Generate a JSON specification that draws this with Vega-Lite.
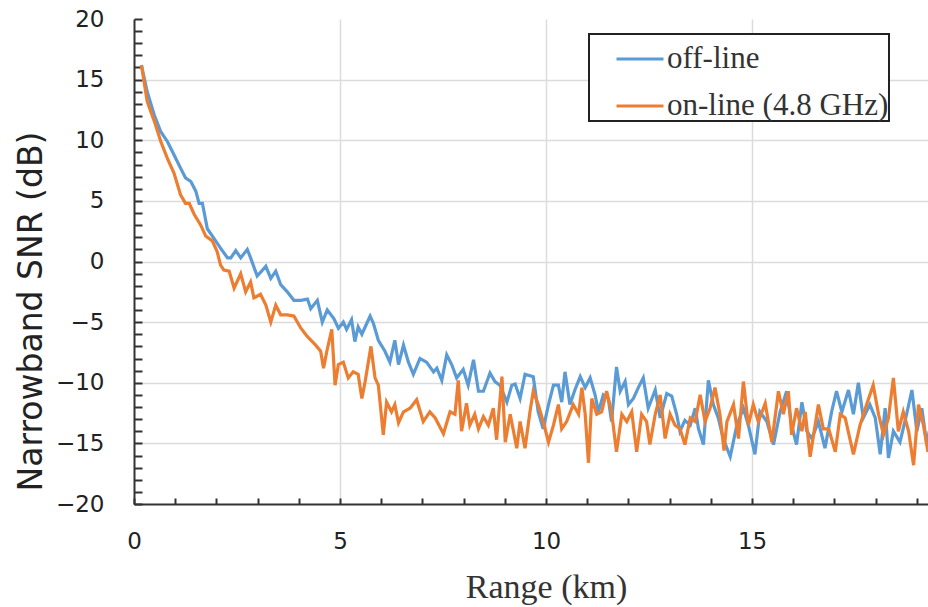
{
  "$schema": "https://vega.github.io/schema/vega-lite/v6.json",
  "width": 794,
  "height": 485,
  "autosize": {"type": "none"},
  "padding": {"left": 134, "top": 19, "right": 0, "bottom": 103},
  "background": "white",
  "config": {
    "view": {"stroke": null},
    "axis": {"labelFont": "DejaVu Sans", "labelFontSize": 23, "labelColor": "#222", "domainColor": "#333", "domainWidth": 2, "tickColor": "#333", "tickWidth": 2, "gridColor": "#dcdcdc", "gridWidth": 1.5},
    "legend": {"strokeWidth": 2}
  },
  "resolve": {"axis": {"y": "independent"}},
  "datasets": {
    "snr": [
      {"r":0.18,"v":16.2,"s":"off-line"},{"r":0.32,"v":14.0,"s":"off-line"},{"r":0.49,"v":12.1,"s":"off-line"},{"r":0.65,"v":10.7,"s":"off-line"},{"r":0.81,"v":9.9,"s":"off-line"},{"r":0.97,"v":8.8,"s":"off-line"},{"r":1.13,"v":7.7,"s":"off-line"},{"r":1.25,"v":6.9,"s":"off-line"},{"r":1.38,"v":6.6,"s":"off-line"},{"r":1.50,"v":5.8,"s":"off-line"},{"r":1.58,"v":4.8,"s":"off-line"},{"r":1.66,"v":4.8,"s":"off-line"},{"r":1.78,"v":2.7,"s":"off-line"},{"r":1.94,"v":1.9,"s":"off-line"},{"r":2.10,"v":1.1,"s":"off-line"},{"r":2.27,"v":0.3,"s":"off-line"},{"r":2.35,"v":0.3,"s":"off-line"},{"r":2.47,"v":0.9,"s":"off-line"},{"r":2.59,"v":0.3,"s":"off-line"},{"r":2.75,"v":1.0,"s":"off-line"},{"r":2.83,"v":0.3,"s":"off-line"},{"r":2.99,"v":-1.2,"s":"off-line"},{"r":3.20,"v":-0.4,"s":"off-line"},{"r":3.32,"v":-1.4,"s":"off-line"},{"r":3.44,"v":-0.8,"s":"off-line"},{"r":3.56,"v":-1.9,"s":"off-line"},{"r":3.72,"v":-2.5,"s":"off-line"},{"r":3.88,"v":-3.2,"s":"off-line"},{"r":4.05,"v":-3.2,"s":"off-line"},{"r":4.21,"v":-3.1,"s":"off-line"},{"r":4.29,"v":-3.9,"s":"off-line"},{"r":4.45,"v":-3.2,"s":"off-line"},{"r":4.57,"v":-5.0,"s":"off-line"},{"r":4.69,"v":-4.0,"s":"off-line"},{"r":4.85,"v":-4.7,"s":"off-line"},{"r":4.96,"v":-5.5,"s":"off-line"},{"r":5.08,"v":-5.0,"s":"off-line"},{"r":5.16,"v":-5.6,"s":"off-line"},{"r":5.28,"v":-4.8,"s":"off-line"},{"r":5.36,"v":-6.6,"s":"off-line"},{"r":5.44,"v":-5.4,"s":"off-line"},{"r":5.53,"v":-6.0,"s":"off-line"},{"r":5.61,"v":-5.4,"s":"off-line"},{"r":5.73,"v":-4.5,"s":"off-line"},{"r":5.81,"v":-5.1,"s":"off-line"},{"r":5.93,"v":-6.5,"s":"off-line"},{"r":6.09,"v":-7.4,"s":"off-line"},{"r":6.21,"v":-8.3,"s":"off-line"},{"r":6.33,"v":-6.5,"s":"off-line"},{"r":6.42,"v":-8.5,"s":"off-line"},{"r":6.54,"v":-6.9,"s":"off-line"},{"r":6.66,"v":-8.3,"s":"off-line"},{"r":6.78,"v":-9.3,"s":"off-line"},{"r":6.94,"v":-8.0,"s":"off-line"},{"r":7.10,"v":-8.3,"s":"off-line"},{"r":7.27,"v":-9.1,"s":"off-line"},{"r":7.35,"v":-8.8,"s":"off-line"},{"r":7.47,"v":-9.8,"s":"off-line"},{"r":7.59,"v":-7.7,"s":"off-line"},{"r":7.71,"v":-8.5,"s":"off-line"},{"r":7.83,"v":-9.6,"s":"off-line"},{"r":7.99,"v":-8.9,"s":"off-line"},{"r":8.11,"v":-10.2,"s":"off-line"},{"r":8.24,"v":-8.1,"s":"off-line"},{"r":8.36,"v":-10.7,"s":"off-line"},{"r":8.48,"v":-10.7,"s":"off-line"},{"r":8.64,"v":-9.2,"s":"off-line"},{"r":8.76,"v":-9.9,"s":"off-line"},{"r":8.88,"v":-10.2,"s":"off-line"},{"r":9.05,"v":-11.6,"s":"off-line"},{"r":9.17,"v":-10.2,"s":"off-line"},{"r":9.25,"v":-10.1,"s":"off-line"},{"r":9.37,"v":-11.3,"s":"off-line"},{"r":9.49,"v":-9.3,"s":"off-line"},{"r":9.69,"v":-9.5,"s":"off-line"},{"r":9.81,"v":-12.4,"s":"off-line"},{"r":9.93,"v":-13.8,"s":"off-line"},{"r":10.06,"v":-11.8,"s":"off-line"},{"r":10.18,"v":-10.2,"s":"off-line"},{"r":10.30,"v":-10.2,"s":"off-line"},{"r":10.38,"v":-11.6,"s":"off-line"},{"r":10.46,"v":-9.1,"s":"off-line"},{"r":10.58,"v":-11.8,"s":"off-line"},{"r":10.70,"v":-10.6,"s":"off-line"},{"r":10.83,"v":-9.5,"s":"off-line"},{"r":10.95,"v":-10.4,"s":"off-line"},{"r":11.07,"v":-9.6,"s":"off-line"},{"r":11.19,"v":-11.0,"s":"off-line"},{"r":11.27,"v":-12.4,"s":"off-line"},{"r":11.39,"v":-11.0,"s":"off-line"},{"r":11.51,"v":-11.3,"s":"off-line"},{"r":11.59,"v":-13.2,"s":"off-line"},{"r":11.71,"v":-8.7,"s":"off-line"},{"r":11.80,"v":-10.7,"s":"off-line"},{"r":11.92,"v":-9.9,"s":"off-line"},{"r":12.00,"v":-11.8,"s":"off-line"},{"r":12.12,"v":-11.3,"s":"off-line"},{"r":12.24,"v":-10.4,"s":"off-line"},{"r":12.36,"v":-9.6,"s":"off-line"},{"r":12.48,"v":-12.1,"s":"off-line"},{"r":12.65,"v":-10.6,"s":"off-line"},{"r":12.77,"v":-12.9,"s":"off-line"},{"r":12.93,"v":-10.9,"s":"off-line"},{"r":13.05,"v":-11.1,"s":"off-line"},{"r":13.17,"v":-12.6,"s":"off-line"},{"r":13.25,"v":-14.0,"s":"off-line"},{"r":13.37,"v":-13.1,"s":"off-line"},{"r":13.50,"v":-13.5,"s":"off-line"},{"r":13.62,"v":-12.1,"s":"off-line"},{"r":13.70,"v":-13.8,"s":"off-line"},{"r":13.82,"v":-15.1,"s":"off-line"},{"r":13.94,"v":-9.8,"s":"off-line"},{"r":14.06,"v":-11.8,"s":"off-line"},{"r":14.18,"v":-12.9,"s":"off-line"},{"r":14.30,"v":-14.6,"s":"off-line"},{"r":14.47,"v":-16.1,"s":"off-line"},{"r":14.63,"v":-13.5,"s":"off-line"},{"r":14.79,"v":-12.1,"s":"off-line"},{"r":14.91,"v":-13.5,"s":"off-line"},{"r":15.07,"v":-15.9,"s":"off-line"},{"r":15.19,"v":-12.4,"s":"off-line"},{"r":15.36,"v":-13.2,"s":"off-line"},{"r":15.52,"v":-15.1,"s":"off-line"},{"r":15.68,"v":-12.4,"s":"off-line"},{"r":15.84,"v":-10.7,"s":"off-line"},{"r":15.96,"v":-13.5,"s":"off-line"},{"r":16.08,"v":-15.1,"s":"off-line"},{"r":16.21,"v":-11.6,"s":"off-line"},{"r":16.33,"v":-14.0,"s":"off-line"},{"r":16.45,"v":-14.6,"s":"off-line"},{"r":16.61,"v":-13.2,"s":"off-line"},{"r":16.77,"v":-15.4,"s":"off-line"},{"r":16.93,"v":-12.4,"s":"off-line"},{"r":17.05,"v":-10.7,"s":"off-line"},{"r":17.18,"v":-12.4,"s":"off-line"},{"r":17.34,"v":-10.6,"s":"off-line"},{"r":17.46,"v":-12.6,"s":"off-line"},{"r":17.58,"v":-10.0,"s":"off-line"},{"r":17.70,"v":-12.9,"s":"off-line"},{"r":17.86,"v":-11.8,"s":"off-line"},{"r":17.99,"v":-12.9,"s":"off-line"},{"r":18.11,"v":-15.9,"s":"off-line"},{"r":18.23,"v":-12.1,"s":"off-line"},{"r":18.31,"v":-16.2,"s":"off-line"},{"r":18.43,"v":-14.0,"s":"off-line"},{"r":18.59,"v":-14.9,"s":"off-line"},{"r":18.75,"v":-12.6,"s":"off-line"},{"r":18.88,"v":-10.6,"s":"off-line"},{"r":19.00,"v":-14.0,"s":"off-line"},{"r":19.12,"v":-12.1,"s":"off-line"},{"r":19.24,"v":-15.1,"s":"off-line"},{"r":19.30,"v":-14.0,"s":"off-line"},
      {"r":0.18,"v":16.2,"s":"on-line (4.8 GHz)"},{"r":0.32,"v":13.2,"s":"on-line (4.8 GHz)"},{"r":0.49,"v":11.6,"s":"on-line (4.8 GHz)"},{"r":0.65,"v":9.9,"s":"on-line (4.8 GHz)"},{"r":0.81,"v":8.5,"s":"on-line (4.8 GHz)"},{"r":0.97,"v":7.3,"s":"on-line (4.8 GHz)"},{"r":1.13,"v":5.5,"s":"on-line (4.8 GHz)"},{"r":1.25,"v":4.8,"s":"on-line (4.8 GHz)"},{"r":1.34,"v":4.8,"s":"on-line (4.8 GHz)"},{"r":1.46,"v":3.9,"s":"on-line (4.8 GHz)"},{"r":1.62,"v":3.0,"s":"on-line (4.8 GHz)"},{"r":1.74,"v":2.1,"s":"on-line (4.8 GHz)"},{"r":1.90,"v":1.7,"s":"on-line (4.8 GHz)"},{"r":2.02,"v":0.8,"s":"on-line (4.8 GHz)"},{"r":2.10,"v":-0.3,"s":"on-line (4.8 GHz)"},{"r":2.18,"v":-0.7,"s":"on-line (4.8 GHz)"},{"r":2.31,"v":-0.8,"s":"on-line (4.8 GHz)"},{"r":2.43,"v":-2.2,"s":"on-line (4.8 GHz)"},{"r":2.59,"v":-1.0,"s":"on-line (4.8 GHz)"},{"r":2.71,"v":-2.5,"s":"on-line (4.8 GHz)"},{"r":2.83,"v":-1.7,"s":"on-line (4.8 GHz)"},{"r":2.91,"v":-3.0,"s":"on-line (4.8 GHz)"},{"r":3.07,"v":-2.7,"s":"on-line (4.8 GHz)"},{"r":3.20,"v":-3.6,"s":"on-line (4.8 GHz)"},{"r":3.32,"v":-5.0,"s":"on-line (4.8 GHz)"},{"r":3.44,"v":-3.6,"s":"on-line (4.8 GHz)"},{"r":3.56,"v":-4.4,"s":"on-line (4.8 GHz)"},{"r":3.72,"v":-4.4,"s":"on-line (4.8 GHz)"},{"r":3.88,"v":-4.5,"s":"on-line (4.8 GHz)"},{"r":4.05,"v":-5.5,"s":"on-line (4.8 GHz)"},{"r":4.21,"v":-6.2,"s":"on-line (4.8 GHz)"},{"r":4.41,"v":-6.9,"s":"on-line (4.8 GHz)"},{"r":4.53,"v":-7.4,"s":"on-line (4.8 GHz)"},{"r":4.60,"v":-8.8,"s":"on-line (4.8 GHz)"},{"r":4.68,"v":-7.4,"s":"on-line (4.8 GHz)"},{"r":4.80,"v":-5.6,"s":"on-line (4.8 GHz)"},{"r":4.88,"v":-10.2,"s":"on-line (4.8 GHz)"},{"r":4.96,"v":-8.5,"s":"on-line (4.8 GHz)"},{"r":5.08,"v":-8.3,"s":"on-line (4.8 GHz)"},{"r":5.20,"v":-9.6,"s":"on-line (4.8 GHz)"},{"r":5.32,"v":-9.1,"s":"on-line (4.8 GHz)"},{"r":5.44,"v":-9.3,"s":"on-line (4.8 GHz)"},{"r":5.53,"v":-11.3,"s":"on-line (4.8 GHz)"},{"r":5.61,"v":-9.9,"s":"on-line (4.8 GHz)"},{"r":5.75,"v":-7.0,"s":"on-line (4.8 GHz)"},{"r":5.85,"v":-9.6,"s":"on-line (4.8 GHz)"},{"r":5.93,"v":-10.2,"s":"on-line (4.8 GHz)"},{"r":6.05,"v":-14.3,"s":"on-line (4.8 GHz)"},{"r":6.13,"v":-11.6,"s":"on-line (4.8 GHz)"},{"r":6.25,"v":-12.4,"s":"on-line (4.8 GHz)"},{"r":6.33,"v":-11.8,"s":"on-line (4.8 GHz)"},{"r":6.42,"v":-13.3,"s":"on-line (4.8 GHz)"},{"r":6.54,"v":-12.4,"s":"on-line (4.8 GHz)"},{"r":6.70,"v":-12.1,"s":"on-line (4.8 GHz)"},{"r":6.86,"v":-11.4,"s":"on-line (4.8 GHz)"},{"r":7.02,"v":-13.2,"s":"on-line (4.8 GHz)"},{"r":7.18,"v":-12.4,"s":"on-line (4.8 GHz)"},{"r":7.31,"v":-12.9,"s":"on-line (4.8 GHz)"},{"r":7.51,"v":-14.2,"s":"on-line (4.8 GHz)"},{"r":7.67,"v":-12.4,"s":"on-line (4.8 GHz)"},{"r":7.79,"v":-12.6,"s":"on-line (4.8 GHz)"},{"r":7.87,"v":-9.8,"s":"on-line (4.8 GHz)"},{"r":7.95,"v":-14.0,"s":"on-line (4.8 GHz)"},{"r":8.07,"v":-11.7,"s":"on-line (4.8 GHz)"},{"r":8.15,"v":-13.5,"s":"on-line (4.8 GHz)"},{"r":8.27,"v":-12.6,"s":"on-line (4.8 GHz)"},{"r":8.36,"v":-13.8,"s":"on-line (4.8 GHz)"},{"r":8.48,"v":-12.8,"s":"on-line (4.8 GHz)"},{"r":8.60,"v":-13.5,"s":"on-line (4.8 GHz)"},{"r":8.72,"v":-12.1,"s":"on-line (4.8 GHz)"},{"r":8.80,"v":-14.7,"s":"on-line (4.8 GHz)"},{"r":8.93,"v":-9.5,"s":"on-line (4.8 GHz)"},{"r":9.01,"v":-14.9,"s":"on-line (4.8 GHz)"},{"r":9.13,"v":-12.6,"s":"on-line (4.8 GHz)"},{"r":9.29,"v":-15.4,"s":"on-line (4.8 GHz)"},{"r":9.37,"v":-13.2,"s":"on-line (4.8 GHz)"},{"r":9.49,"v":-15.4,"s":"on-line (4.8 GHz)"},{"r":9.61,"v":-12.4,"s":"on-line (4.8 GHz)"},{"r":9.69,"v":-10.7,"s":"on-line (4.8 GHz)"},{"r":9.81,"v":-11.8,"s":"on-line (4.8 GHz)"},{"r":9.93,"v":-13.2,"s":"on-line (4.8 GHz)"},{"r":10.06,"v":-14.9,"s":"on-line (4.8 GHz)"},{"r":10.18,"v":-13.5,"s":"on-line (4.8 GHz)"},{"r":10.30,"v":-11.8,"s":"on-line (4.8 GHz)"},{"r":10.38,"v":-13.8,"s":"on-line (4.8 GHz)"},{"r":10.50,"v":-13.2,"s":"on-line (4.8 GHz)"},{"r":10.66,"v":-11.8,"s":"on-line (4.8 GHz)"},{"r":10.79,"v":-12.6,"s":"on-line (4.8 GHz)"},{"r":10.87,"v":-10.4,"s":"on-line (4.8 GHz)"},{"r":10.95,"v":-12.6,"s":"on-line (4.8 GHz)"},{"r":11.03,"v":-16.6,"s":"on-line (4.8 GHz)"},{"r":11.11,"v":-11.3,"s":"on-line (4.8 GHz)"},{"r":11.23,"v":-12.6,"s":"on-line (4.8 GHz)"},{"r":11.35,"v":-12.4,"s":"on-line (4.8 GHz)"},{"r":11.47,"v":-10.7,"s":"on-line (4.8 GHz)"},{"r":11.59,"v":-12.4,"s":"on-line (4.8 GHz)"},{"r":11.71,"v":-15.7,"s":"on-line (4.8 GHz)"},{"r":11.84,"v":-12.6,"s":"on-line (4.8 GHz)"},{"r":11.96,"v":-13.2,"s":"on-line (4.8 GHz)"},{"r":12.08,"v":-12.4,"s":"on-line (4.8 GHz)"},{"r":12.20,"v":-15.7,"s":"on-line (4.8 GHz)"},{"r":12.32,"v":-12.6,"s":"on-line (4.8 GHz)"},{"r":12.44,"v":-13.2,"s":"on-line (4.8 GHz)"},{"r":12.52,"v":-15.1,"s":"on-line (4.8 GHz)"},{"r":12.65,"v":-12.6,"s":"on-line (4.8 GHz)"},{"r":12.77,"v":-11.0,"s":"on-line (4.8 GHz)"},{"r":12.89,"v":-14.6,"s":"on-line (4.8 GHz)"},{"r":13.01,"v":-12.6,"s":"on-line (4.8 GHz)"},{"r":13.13,"v":-13.5,"s":"on-line (4.8 GHz)"},{"r":13.25,"v":-13.8,"s":"on-line (4.8 GHz)"},{"r":13.37,"v":-15.1,"s":"on-line (4.8 GHz)"},{"r":13.50,"v":-12.9,"s":"on-line (4.8 GHz)"},{"r":13.62,"v":-13.2,"s":"on-line (4.8 GHz)"},{"r":13.74,"v":-11.0,"s":"on-line (4.8 GHz)"},{"r":13.86,"v":-13.2,"s":"on-line (4.8 GHz)"},{"r":13.98,"v":-12.1,"s":"on-line (4.8 GHz)"},{"r":14.10,"v":-10.4,"s":"on-line (4.8 GHz)"},{"r":14.22,"v":-12.6,"s":"on-line (4.8 GHz)"},{"r":14.32,"v":-15.6,"s":"on-line (4.8 GHz)"},{"r":14.39,"v":-13.2,"s":"on-line (4.8 GHz)"},{"r":14.55,"v":-11.8,"s":"on-line (4.8 GHz)"},{"r":14.67,"v":-14.6,"s":"on-line (4.8 GHz)"},{"r":14.79,"v":-9.9,"s":"on-line (4.8 GHz)"},{"r":14.91,"v":-13.5,"s":"on-line (4.8 GHz)"},{"r":15.03,"v":-11.8,"s":"on-line (4.8 GHz)"},{"r":15.15,"v":-13.2,"s":"on-line (4.8 GHz)"},{"r":15.32,"v":-11.7,"s":"on-line (4.8 GHz)"},{"r":15.48,"v":-14.9,"s":"on-line (4.8 GHz)"},{"r":15.64,"v":-10.7,"s":"on-line (4.8 GHz)"},{"r":15.76,"v":-12.6,"s":"on-line (4.8 GHz)"},{"r":15.88,"v":-10.7,"s":"on-line (4.8 GHz)"},{"r":15.96,"v":-14.3,"s":"on-line (4.8 GHz)"},{"r":16.08,"v":-12.1,"s":"on-line (4.8 GHz)"},{"r":16.21,"v":-14.0,"s":"on-line (4.8 GHz)"},{"r":16.29,"v":-12.4,"s":"on-line (4.8 GHz)"},{"r":16.41,"v":-16.1,"s":"on-line (4.8 GHz)"},{"r":16.61,"v":-11.8,"s":"on-line (4.8 GHz)"},{"r":16.73,"v":-13.8,"s":"on-line (4.8 GHz)"},{"r":16.86,"v":-13.8,"s":"on-line (4.8 GHz)"},{"r":17.02,"v":-15.7,"s":"on-line (4.8 GHz)"},{"r":17.14,"v":-12.6,"s":"on-line (4.8 GHz)"},{"r":17.26,"v":-12.9,"s":"on-line (4.8 GHz)"},{"r":17.46,"v":-15.9,"s":"on-line (4.8 GHz)"},{"r":17.62,"v":-13.5,"s":"on-line (4.8 GHz)"},{"r":17.78,"v":-11.8,"s":"on-line (4.8 GHz)"},{"r":17.94,"v":-10.2,"s":"on-line (4.8 GHz)"},{"r":18.07,"v":-12.6,"s":"on-line (4.8 GHz)"},{"r":18.19,"v":-14.3,"s":"on-line (4.8 GHz)"},{"r":18.31,"v":-12.9,"s":"on-line (4.8 GHz)"},{"r":18.43,"v":-9.6,"s":"on-line (4.8 GHz)"},{"r":18.55,"v":-14.0,"s":"on-line (4.8 GHz)"},{"r":18.67,"v":-12.4,"s":"on-line (4.8 GHz)"},{"r":18.80,"v":-14.0,"s":"on-line (4.8 GHz)"},{"r":18.92,"v":-16.8,"s":"on-line (4.8 GHz)"},{"r":19.04,"v":-11.8,"s":"on-line (4.8 GHz)"},{"r":19.16,"v":-13.5,"s":"on-line (4.8 GHz)"},{"r":19.27,"v":-15.7,"s":"on-line (4.8 GHz)"},{"r":19.30,"v":-15.0,"s":"on-line (4.8 GHz)"}
    ]
  },
  "layer": [
    {
      "data": {"name": "snr"},
      "mark": {"type": "line", "strokeWidth": 3.2, "clip": true, "interpolate": "linear"},
      "encoding": {
        "x": {
          "field": "r", "type": "quantitative",
          "scale": {"domain": [0, 19.27], "nice": false, "zero": false},
          "axis": {
            "title": "Range (km)",
            "titleFont": "Liberation Serif", "titleFontSize": 34, "titleFontWeight": "normal", "titleColor": "#333",
            "titleX": 412, "titleY": 93, "titleAlign": "center", "titleBaseline": "alphabetic",
            "values": [0,1,2,3,4,5,6,7,8,9,10,11,12,13,14,15,16,17,18,19],
            "labelExpr": "datum.value % 5 === 0 ? datum.label : ''",
            "tickSize": -6, "labelPadding": 32, "labelFlush": false, "labelOverlap": false,
            "gridOpacity": {"condition": {"test": "datum.value % 5 === 0 && datum.value > 0", "value": 1}, "value": 0}
          }
        },
        "y": {
          "field": "v", "type": "quantitative",
          "scale": {"domain": [-20, 20], "nice": false},
          "axis": {
            "orient": "left",
            "title": "Narrowband SNR (dB)",
            "titleFont": "DejaVu Sans", "titleFontSize": 33, "titleFontWeight": "normal", "titleColor": "#222",
            "titleX": -93, "titleY": 292, "titleAlign": "center", "titleBaseline": "alphabetic", "titleAngle": -90,
            "values": [-20,-15,-10,-5,0,5,10,15,20],
            "ticks": false, "tickSize": 0, "domain": false,
            "labelPadding": 30, "labelFlush": false, "labelOverlap": false,
            "gridOpacity": {"condition": {"test": "datum.value > -20 && datum.value < 20", "value": 1}, "value": 0}
          }
        },
        "color": {
          "field": "s", "type": "nominal",
          "scale": {"domain": ["off-line", "on-line (4.8 GHz)"], "range": ["#5B9BD5", "#ED7D31"]},
          "legend": {
            "title": null, "orient": "none", "legendX": 455, "legendY": 15,
            "direction": "vertical",
            "symbolType": "stroke", "symbolSize": 2209, "symbolStrokeWidth": 3,
            "labelFont": "Liberation Serif", "labelFontSize": 31, "labelColor": "#333", "labelOffset": 2, "labelLimit": 400,
            "symbolOffset": 26, "padding": 0, "rowPadding": 7,
            "strokeColor": "#222", "fillColor": "white"
          }
        }
      }
    },
    {
      "mark": {"type": "rule", "color": "#333", "strokeWidth": 2},
      "encoding": {
        "y": {
          "datum": 20, "type": "quantitative",
          "axis": {
            "orient": "left", "title": null,
            "values": [-20,-19,-18,-17,-16,-15,-14,-13,-12,-11,-10,-9,-8,-7,-6,-5,-4,-3,-2,-1,0,1,2,3,4,5,6,7,8,9,10,11,12,13,14,15,16,17,18,19,20],
            "labels": false, "grid": false, "tickSize": -8, "domain": true
          }
        }
      }
    }
  ]
}
